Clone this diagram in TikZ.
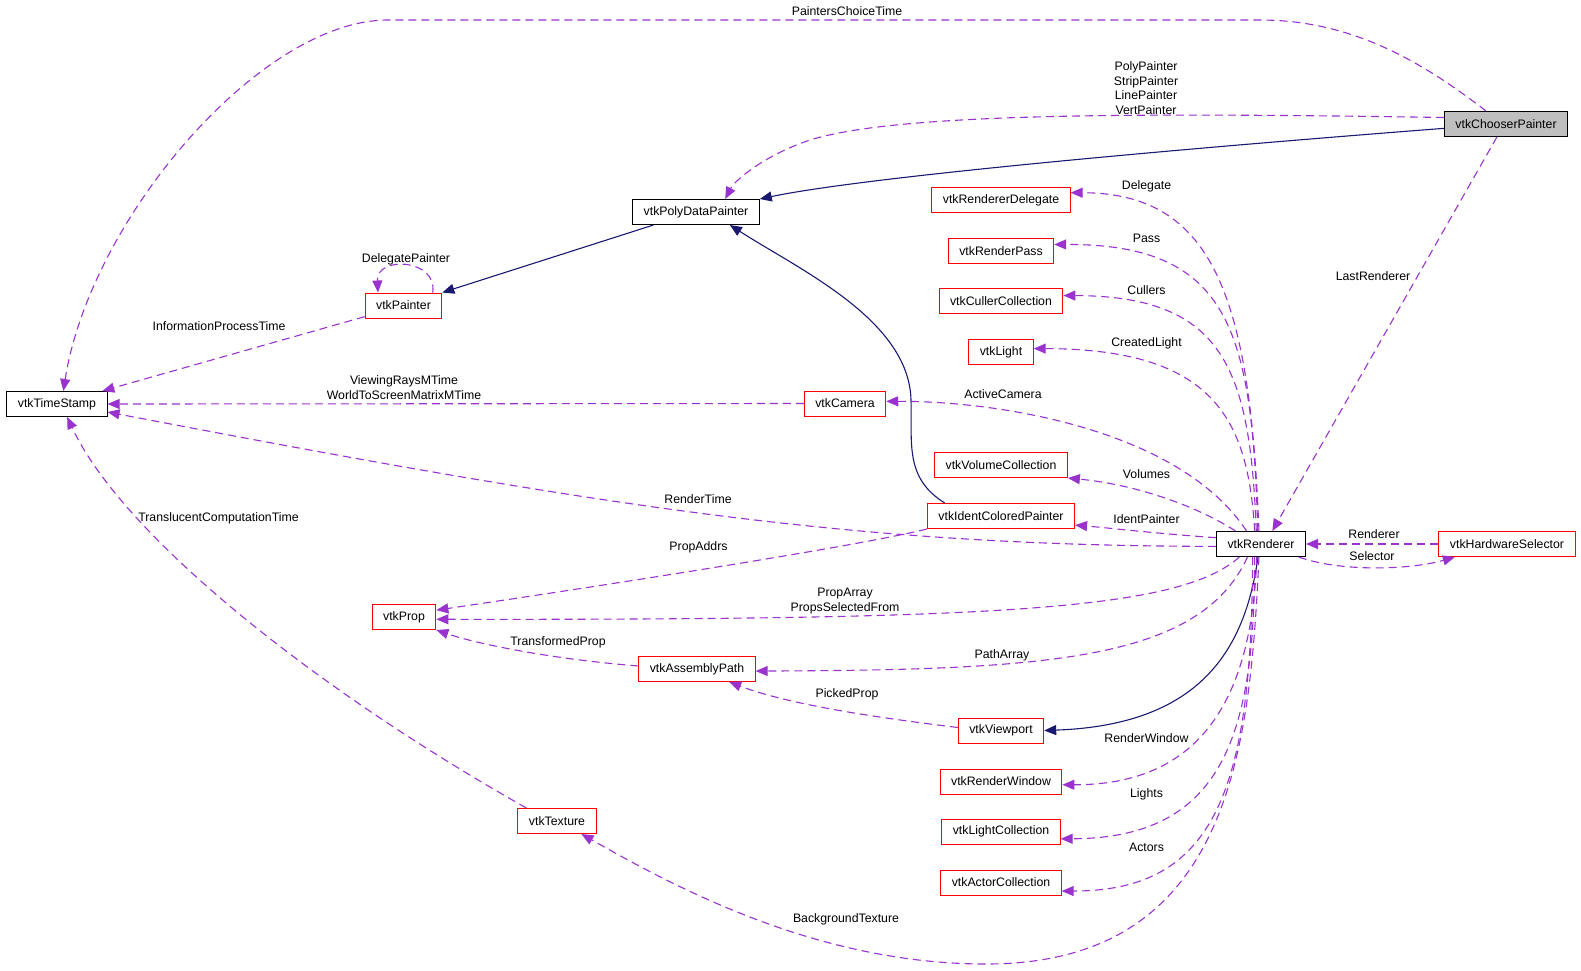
\documentclass[tikz,border=0pt]{standalone}
\usepackage{fontspec}
\setmainfont{Liberation Sans}
\usepackage{tikz}
\usetikzlibrary{arrows.meta}

\definecolor{edgenavy}{HTML}{191970}
\definecolor{edgeorchid}{HTML}{9A32CD}
\definecolor{boxgray}{HTML}{BFBFBF}

\tikzset{
  cls/.style={draw=black, line width=1pt, minimum height=25pt, inner xsep=11pt, inner ysep=0pt, font=\fontsize{12.3}{14}\selectfont},
  undoc/.style={cls, draw=red},
  inherit/.style={draw=edgenavy, line width=1.1pt, -{Triangle[length=12pt,width=10pt]}},
  uses/.style={draw=edgeorchid, line width=1.1pt, dash pattern=on 8pt off 5pt, -{Triangle[length=12pt,width=10pt]}},
  lbl/.style={inner sep=0pt, align=center, font=\fontsize{12.3}{14.5}\selectfont},
}

\begin{document}
\begin{tikzpicture}[x=1pt, y=-1pt]
    \useasboundingbox (0,0) rectangle (1581,970);
    % classes
    \node[cls, fill=boxgray] (chooser) at (1506,124) {vtkChooserPainter};
    \node[cls] (polydata) at (696,212) {vtkPolyDataPainter};
    \node[undoc] (painter) at (403.5,305.5) {vtkPainter};
    \node[cls] (timestamp) at (57,404) {vtkTimeStamp};
    \node[undoc] (camera) at (845,403.5) {vtkCamera};
    \node[cls] (renderer) at (1261,544) {vtkRenderer};
    \node[undoc] (hwsel) at (1507,544) {vtkHardwareSelector};
    \node[undoc] (prop) at (404,617) {vtkProp};
    \node[undoc] (asmpath) at (697,669) {vtkAssemblyPath};
    \node[undoc] (texture) at (557,821) {vtkTexture};
    \foreach \nm/\yy/\txt in {delegate/200/vtkRendererDelegate, renderpass/251/vtkRenderPass,
        cullers/301/vtkCullerCollection, light/352/vtkLight, volumes/465/vtkVolumeCollection,
        ident/516/vtkIdentColoredPainter, viewport/730.5/vtkViewport, renderwin/781.5/vtkRenderWindow,
        lightcoll/831.5/vtkLightCollection, actorcoll/882.5/vtkActorCollection}
        \node[undoc] (\nm) at (1001,\yy) {\txt};

    % inheritance
    \draw[inherit] (chooser.184) .. controls (1100,155) and (850,180) .. (polydata.north east);
    \draw[inherit] (polydata.197) -- (painter.north east);
    \draw[inherit] (ident.167) .. controls (905,478) and (912,445) .. (911,400)
        .. controls (909,320) and (800,270) .. (polydata.339);
    \draw[inherit] (renderer.257) .. controls (1245,650) and (1200,725) .. (viewport.east);

    % members, left part
    \draw[uses] (chooser.147) .. controls (1420,60) and (1350,20) .. (1260,20) -- (388,20)
        .. controls (260,20) and (90,220) .. (timestamp.64);
    \draw[uses] (chooser.174) .. controls (1150,113) and (900,112) .. (810,140)
        .. controls (765,155) and (735,180) .. (polydata.24);
    \draw[uses] (chooser.235) -- (renderer.49);
    \draw[uses] (painter.24) .. controls +(5,-34) and +(-2,-37) .. (painter.153);
    \draw[uses] (painter.196) -- (timestamp.16);
    \draw[uses] (camera.west) -- (timestamp.east);
    \draw[uses] (renderer.183) .. controls (850,546) and (600,506) .. (timestamp.351);
    \draw[uses] (texture.157) .. controls (300,680) and (120,530) .. (timestamp.308);
    \draw[uses] (ident.south west) .. controls (850,548) and (560,592) .. (prop.12);
    \draw[uses] (renderer.211) .. controls (1180,610) and (1000,620) .. (prop.356);
    \draw[uses] (asmpath.177) .. controls (560,660) and (480,645) .. (prop.south east);
    \draw[uses] (renderer.224) .. controls (1200,660) and (1050,670) .. (asmpath.358);
    \draw[uses] (viewport.176) .. controls (880,718) and (790,705) .. (asmpath.338);
    \draw[uses] (renderer.261) .. controls (1250,750) and (1230,964) .. (986,964)
        .. controls (820,964) and (680,890) .. (texture.332);

    % members, right column
    \draw[uses] (renderer.99) .. controls (1250,300) and (1215,193) .. (delegate.6);
    \draw[uses] (renderer.104) .. controls (1252,330) and (1230,244) .. (renderpass.7);
    \draw[uses] (renderer.110) .. controls (1250,370) and (1225,296) .. (cullers.5);
    \draw[uses] (renderer.116) .. controls (1248,420) and (1215,349) .. (light.6);
    \draw[uses] (renderer.138) .. controls (1180,430) and (1000,401) .. (camera.3);
    \draw[uses] (renderer.153) .. controls (1200,508) and (1140,485) .. (volumes.south east);
    \draw[uses] (renderer.172) .. controls (1150,533) and (1110,528) .. (ident.353);
    \draw[uses] (renderer.252) .. controls (1252,700) and (1200,785) .. (renderwin.357);
    \draw[uses] (renderer.244) .. controls (1255,740) and (1220,838) .. (lightcoll.353);
    \draw[uses] (renderer.237) .. controls (1252,790) and (1215,891) .. (actorcoll.352);
    \draw[uses] (hwsel.west) -- (renderer.east);
    \draw[uses] (renderer.341) .. controls (1340,572) and (1410,570) .. (hwsel.194);

    % labels
    \node[lbl] (l-painterschoice) at (847,11) {PaintersChoiceTime};
    \node[lbl] (l-painters) at (1146,88) {PolyPainter\\StripPainter\\LinePainter\\VertPainter};
    \node[lbl] (l-lastrenderer) at (1373,276) {LastRenderer};
    \node[lbl] (l-delegatepainter) at (406,259) {DelegatePainter};
    \node[lbl] (l-infotime) at (219,326) {InformationProcessTime};
    \node[lbl] (l-viewingrays) at (404,387.5) {ViewingRaysMTime\\WorldToScreenMatrixMTime};
    \node[lbl] (l-rendertime) at (698,499) {RenderTime};
    \node[lbl] (l-translucent) at (218.5,518) {TranslucentComputationTime};
    \node[lbl] (l-propaddrs) at (698.5,547) {PropAddrs};
    \node[lbl] (l-proparray) at (845,601) {PropArray\\PropsSelectedFrom};
    \node[lbl] (l-transformed) at (558,642) {TransformedProp};
    \node[lbl] (l-patharray) at (1002,655) {PathArray};
    \node[lbl] (l-pickedprop) at (847,694) {PickedProp};
    \node[lbl] (l-background) at (846,919) {BackgroundTexture};
    \node[lbl] (l-activecamera) at (1003,394) {ActiveCamera};
    \node[lbl] (l-renderer) at (1374,534) {Renderer};
    \node[lbl] (l-selector) at (1372,556) {Selector};
    \foreach \nm/\yy/\txt in {delegate/186/Delegate, pass/238.5/Pass, cullers/290/Cullers,
        createdlight/343.5/CreatedLight, volumes/474/Volumes, identpainter/519/IdentPainter,
        renderwindow/738.5/RenderWindow, lights/794.5/Lights, actors/847/Actors}
        \node[lbl] (l-\nm) at (1146.5,\yy) {\txt};
\end{tikzpicture}
\end{document}
